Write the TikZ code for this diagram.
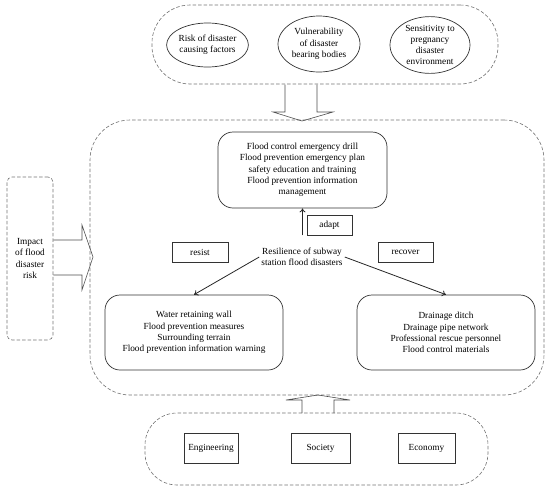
\documentclass[tikz,border=0pt]{standalone}
\usepackage{fontspec}
\setmainfont{Liberation Serif}
\usetikzlibrary{shapes.geometric,arrows.meta,calc}
\begin{document}
\begin{tikzpicture}[x=1pt,y=-1pt,
  txt/.style={font=\fontsize{9.3}{11.3}\selectfont,align=center,text=black},
  dashbox/.style={draw=black!55,dash pattern=on 3.5pt off 2pt,line width=0.6pt},
  solidbox/.style={draw=black!80,line width=0.7pt},
  oval/.style={solidbox,ellipse,inner sep=0pt,txt},
  rbox/.style={solidbox,rounded corners=15pt,inner sep=0pt,txt},
  sbox/.style={solidbox,inner sep=0pt,txt},
  block/.style={draw=black!70,line width=0.6pt},
  conn/.style={draw=black!85,line width=0.8pt,-{To[length=4pt,width=6pt]}}]
\useasboundingbox (0,0) rectangle (550,491);
% top container
\node[dashbox,rounded corners=38pt,minimum width=346pt,minimum height=79pt] (topc) at (325,44.5) {};
\node[oval,minimum width=81pt,minimum height=44pt] (o1) at (207.5,45) {Risk of disaster\\causing factors};
\node[oval,minimum width=82pt,minimum height=56pt] (o2) at (319,44) {Vulnerability\\of disaster\\bearing bodies};
\node[oval,minimum width=80pt,minimum height=50pt] (o3) at (430,45) {Sensitivity to\\pregnancy\\disaster\\environment};
% main container
\node[dashbox,rounded corners=40pt,minimum width=454pt,minimum height=275pt] (mainc) at (317,257.5) {};
% down block arrow
\draw[block] (285,84.5) -- (285,112) -- (273,112) -- (302,121) -- (333,112) -- (317,112) -- (317,84.5);
% impact box
\node[dashbox,rounded corners=5pt,minimum width=46pt,minimum height=163pt,txt] (imp) at (30,258.5) {Impact\\of flood\\disaster\\risk};
% left block arrow
\draw[block] (imp.east |- 0,240) -- (82,240) -- (82,225) -- (93,257) -- (82,290) -- (82,275) -- (imp.east |- 0,275);
% top rounded box
\node[rbox,minimum width=169pt,minimum height=76pt] (topb) at (302.5,170) {Flood control emergency drill\\Flood prevention emergency plan\\safety education and training\\Flood prevention information\\management};
\node[sbox,minimum width=45pt,minimum height=20pt] (adapt) at (329.5,225) {adapt};
\node[sbox,minimum width=56pt,minimum height=20pt] (resist) at (200,252) {resist};
\node[sbox,minimum width=55pt,minimum height=20pt] (recover) at (405.5,252) {recover};
\node[txt,inner sep=2pt] (res) at (302,257) {Resilience of subway\\station flood disasters};
\node[rbox,minimum width=178pt,minimum height=75pt] (lb) at (194,332.5) {Water retaining wall\\Flood prevention measures\\Surrounding terrain\\Flood prevention information warning};
\node[rbox,minimum width=178pt,minimum height=75pt] (rb) at (446,332.5) {Drainage ditch\\Drainage pipe network\\Professional rescue personnel\\Flood control materials};
\draw[conn] (adapt.south -| topb.south) -- (topb.south);
\draw[conn] (res.west) -- (lb.north);
\draw[conn] (res.east) -- (rb.north);
% bottom container
\node[dashbox,rounded corners=32pt,minimum width=343pt,minimum height=72pt] (botc) at (316.5,449) {};
\node[sbox,minimum width=54pt,minimum height=30pt] (eng) at (211,448) {Engineering};
\node[sbox,minimum width=59pt,minimum height=30pt] (soc) at (320.5,448) {Society};
\node[sbox,minimum width=57pt,minimum height=30pt] (eco) at (426.5,448) {Economy};
% up block arrow
\draw[block] (302,413) -- (302,400) -- (286,400) -- (318,395) -- (350,400) -- (334,400) -- (334,413);
\end{tikzpicture}
\end{document}
